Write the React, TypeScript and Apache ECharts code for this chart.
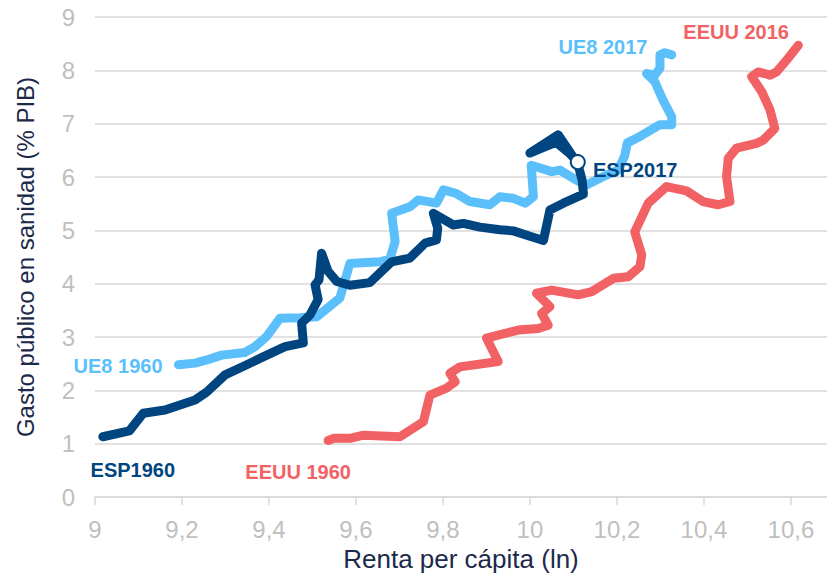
import React, { useEffect, useRef } from "react";
import * as echarts from "echarts";

const ue8Data: [number, number][] = [
  [9.192, 2.48], [9.23, 2.51], [9.257, 2.57], [9.291, 2.66], [9.345, 2.71], [9.368, 2.82],
  [9.395, 3.01], [9.425, 3.35], [9.471, 3.36], [9.51, 3.38], [9.563, 3.73], [9.586, 4.38],
  [9.655, 4.41], [9.678, 4.46], [9.69, 4.79], [9.682, 5.32], [9.724, 5.44], [9.743, 5.57],
  [9.785, 5.51], [9.801, 5.76], [9.831, 5.69], [9.862, 5.54], [9.908, 5.48], [9.931, 5.63],
  [9.962, 5.6], [9.989, 5.51], [10.008, 5.63], [10.003, 6.22], [10.05, 6.1], [10.069, 6.13],
  [10.107, 5.94], [10.13, 5.85], [10.169, 6.01], [10.203, 6.13], [10.218, 6.4], [10.224, 6.64],
  [10.253, 6.76], [10.299, 6.98], [10.326, 6.98], [10.326, 7.13], [10.306, 7.44], [10.287, 7.79],
  [10.268, 7.94], [10.287, 7.91], [10.299, 8.04], [10.299, 8.29], [10.31, 8.33], [10.326, 8.29],
];

const espData: [number, number][] = [
  [9.018, 1.13], [9.079, 1.24], [9.111, 1.57], [9.161, 1.63], [9.23, 1.82], [9.257, 1.97],
  [9.299, 2.29], [9.349, 2.48], [9.395, 2.66], [9.437, 2.82], [9.479, 2.89], [9.475, 3.26],
  [9.494, 3.41], [9.513, 3.7], [9.506, 3.98], [9.515, 4.07], [9.521, 4.57], [9.536, 4.23],
  [9.556, 4.04], [9.586, 3.97], [9.632, 4.02], [9.682, 4.41], [9.724, 4.48], [9.759, 4.76],
  [9.785, 4.82], [9.788, 5.04], [9.778, 5.32], [9.824, 5.1], [9.847, 5.13], [9.885, 5.06],
  [9.931, 5.01], [9.962, 4.99], [10.0, 4.89], [10.031, 4.81], [10.046, 5.38], [10.077, 5.51],
  [10.123, 5.68], [10.12, 5.94], [10.11, 6.25], [10.065, 6.79], [10.0, 6.45], [10.03, 6.55],
  [10.06, 6.65], [10.09, 6.45], [10.11, 6.28],
];

const usaData: [number, number][] = [
  [9.536, 1.06], [9.548, 1.1], [9.586, 1.1], [9.617, 1.16], [9.701, 1.13], [9.755, 1.41],
  [9.77, 1.91], [9.808, 2.04], [9.828, 2.16], [9.816, 2.32], [9.839, 2.44], [9.927, 2.54],
  [9.9, 2.98], [9.973, 3.13], [10.019, 3.16], [10.042, 3.22], [10.027, 3.44], [10.046, 3.57],
  [10.015, 3.82], [10.05, 3.88], [10.111, 3.79], [10.142, 3.85], [10.192, 4.1], [10.226, 4.13],
  [10.253, 4.32], [10.257, 4.54], [10.241, 4.97], [10.272, 5.51], [10.314, 5.82], [10.36, 5.74],
  [10.398, 5.54], [10.433, 5.48], [10.46, 5.54], [10.452, 6.01], [10.456, 6.35], [10.475, 6.54],
  [10.521, 6.63], [10.536, 6.69], [10.563, 6.91], [10.552, 7.26], [10.533, 7.6], [10.51, 7.88],
  [10.525, 7.97], [10.552, 7.91], [10.567, 7.97], [10.59, 8.19], [10.617, 8.47],
];

const ue8Labels: { name: string; value: [number, number] }[] = [
  { name: "UE8 1960", value: [9.053, 2.46] },
  { name: "UE8 2017", value: [10.168, 8.44] },
];
const espLabels: { name: string; value: [number, number] }[] = [
  { name: "ESP1960", value: [9.087, 0.5] },
  { name: "ESP2017", value: [10.242, 6.13] },
];
const usaLabels: { name: string; value: [number, number] }[] = [
  { name: "EEUU 1960", value: [9.467, 0.47] },
  { name: "EEUU 2016", value: [10.474, 8.72] },
];

const X_MIN = 9;
const X_MAX = 10.683;
const X_STEP = 0.2;
const Y_MIN = 0;
const Y_MAX = 9;
const Y_STEP = 1;

const C_UE8 = "#5bbffc";
const C_ESP = "#00457f";
const C_USA = "#f26163";
const FONT = "'Liberation Sans', Arial, sans-serif";

function lineSeries(name: string, data: [number, number][], color: string, z: number) {
  return {
    type: "line",
    name,
    data,
    showSymbol: false,
    symbol: "none",
    z,
    lineStyle: { color, width: 9, cap: "round", join: "round", opacity: 1 },
  };
}

function labelSeries(data: { name: string; value: [number, number] }[], color: string) {
  return {
    type: "scatter",
    data,
    symbolSize: 0,
    z: 10,
    itemStyle: { opacity: 1 },
    label: {
      show: true,
      position: "inside",
      formatter: "{b}",
      color,
      opacity: 1,
      fontFamily: FONT,
      fontWeight: "bold",
      fontSize: 20,
    },
  };
}

export default function App() {
  const ref = useRef<HTMLDivElement>(null);
  useEffect(() => {
    if (!ref.current) return;
    const chart = echarts.init(ref.current, null, { renderer: "svg" });
    const last = espData[espData.length - 1];
    chart.setOption({
      animation: false,
      backgroundColor: "#ffffff",
      grid: { left: 95, right: 0, top: 17, bottom: 80 },
      xAxis: {
        type: "value",
        min: X_MIN,
        max: X_MAX,
        interval: X_STEP,
        name: "Renta per cápita (ln)",
        nameLocation: "middle",
        nameGap: 44,
        nameTextStyle: { color: "#1b2a4a", fontSize: 26, fontFamily: FONT, verticalAlign: "top", lineHeight: 26 },
        axisLine: { show: true, lineStyle: { color: "#d9d9d9", width: 1.5 } },
        axisTick: { show: true, length: 8, lineStyle: { color: "#d9d9d9", width: 1.5 } },
        splitLine: { show: false },
        axisLabel: {
          color: "#bfbfbf",
          fontSize: 24,
          fontFamily: FONT,
          margin: 20,
          showMaxLabel: false,
          formatter: (v: number) => String(Math.round(v * 10) / 10).replace(".", ","),
        },
      },
      yAxis: {
        type: "value",
        min: Y_MIN,
        max: Y_MAX,
        interval: Y_STEP,
        name: "Gasto público en sanidad (% PIB)",
        nameLocation: "middle",
        nameGap: 58,
        nameTextStyle: { color: "#1b2a4a", fontSize: 24, fontFamily: FONT },
        axisLine: { show: false },
        axisTick: { show: false },
        splitLine: { show: true, lineStyle: { color: "#d9d9d9", width: 1.5 } },
        axisLabel: { color: "#bfbfbf", fontSize: 24, fontFamily: FONT, margin: 20 },
      },
      series: [
        lineSeries("UE8", ue8Data, C_UE8, 2),
        lineSeries("EEUU", usaData, C_USA, 3),
        lineSeries("ESP", espData, C_ESP, 4),
        {
          type: "scatter",
          data: [last],
          symbol: "circle",
          symbolSize: 14,
          z: 6,
          itemStyle: { color: "#ffffff", borderColor: C_ESP, borderWidth: 2, opacity: 1 },
        },
        labelSeries(ue8Labels, C_UE8),
        labelSeries(espLabels, C_ESP),
        labelSeries(usaLabels, C_USA),
      ],
    });
    return () => chart.dispose();
  }, []);
  return (
    <div
      ref={ref}
      style={{ position: "fixed", left: 0, top: 0, width: 827, height: 577 }}
    />
  );
}
